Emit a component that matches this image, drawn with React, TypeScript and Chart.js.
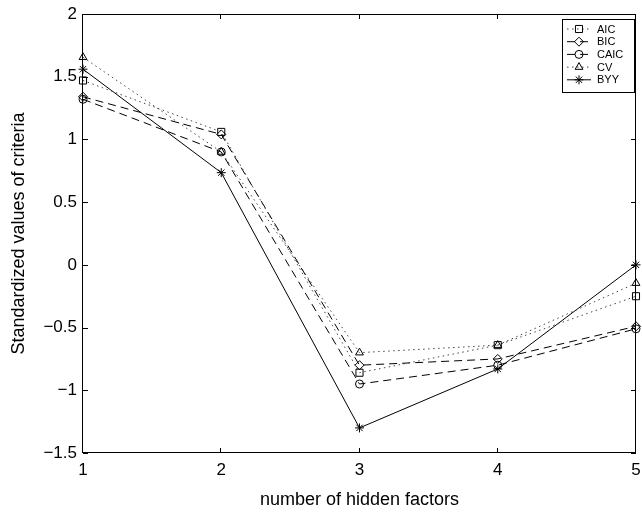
import React, { useEffect, useRef } from 'react';
import { Chart, registerables } from 'chart.js';
import { drawPoint } from 'chart.js/helpers';

Chart.register(...registerables);

const xValues = [1, 2, 3, 4, 5];
const seriesLabels = ['AIC', 'BIC', 'CAIC', 'CV', 'BYY'];
const aicValues = [1.47, 1.06, -0.86, -0.64, -0.25];
const bicValues = [1.34, 1.04, -0.8, -0.75, -0.49];
const caicValues = [1.32, 0.9, -0.95, -0.8, -0.51];
const cvValues = [1.655, 0.9, -0.7, -0.64, -0.146];
const byyValues = [1.56, 0.735, -1.3, -0.83, 0.0];
const yTickValues = [-1.5, -1, -0.5, 0, 0.5, 1, 1.5, 2];
const xTickValues = [1, 2, 3, 4, 5];

const FONT = '"Liberation Sans", Arial, Helvetica, sans-serif';

const fmt = (v: number) => (v < 0 ? '\u2212' + String(Math.abs(v)) : String(v));

const frameLegendPlugin = {
  id: 'frameLegend',
  afterDraw(chart: any) {
    const { ctx, chartArea, scales } = chart;
    const { left, right, top, bottom } = chartArea;
    const xs = scales.x;
    const ys = scales.y;
    ctx.save();
    ctx.strokeStyle = '#000';
    ctx.lineWidth = 1;
    ctx.setLineDash([]);
    ctx.strokeRect(left - 0.5, top + 0.5, right - left, bottom - top - 1);
    const tl = 5;
    ctx.beginPath();
    xTickValues.forEach((v) => {
      const px = Math.round(xs.getPixelForValue(v)) - 0.5;
      ctx.moveTo(px, bottom);
      ctx.lineTo(px, bottom - tl);
      ctx.moveTo(px, top);
      ctx.lineTo(px, top + tl);
    });
    yTickValues.forEach((v) => {
      const py = Math.round(ys.getPixelForValue(v)) + 0.5;
      ctx.moveTo(left, py);
      ctx.lineTo(left + tl, py);
      ctx.moveTo(right, py);
      ctx.lineTo(right - tl, py);
    });
    ctx.stroke();

    // legend
    const bx = 562, by = 19, bw = 72, bh = 73;
    ctx.fillStyle = '#fff';
    ctx.fillRect(bx, by, bw, bh);
    ctx.strokeRect(bx + 0.5, by + 0.5, bw, bh);
    ctx.font = '11px ' + FONT;
    ctx.textAlign = 'left';
    ctx.textBaseline = 'middle';
    chart.data.datasets.forEach((ds: any, i: number) => {
      const y = by + 10 + i * 12.7;
      ctx.save();
      ctx.strokeStyle = ds.borderColor;
      ctx.lineWidth = ds.borderWidth;
      ctx.setLineDash(ds.borderDash || []);
      ctx.beginPath();
      ctx.moveTo(567, y);
      ctx.lineTo(591, y);
      ctx.stroke();
      ctx.setLineDash([]);
      ctx.strokeStyle = '#000';
      ctx.fillStyle = 'rgba(0,0,0,0)';
      ctx.lineWidth = 1;
      drawPoint(ctx, { pointStyle: ds.pointStyle, radius: ds.pointRadius, rotation: 0, borderWidth: 1 }, 579, y);
      ctx.restore();
      ctx.fillStyle = '#000';
      ctx.fillText(ds.label, 597, y + 0.5);
    });
    ctx.restore();
  },
};

export default function App() {
  const ref = useRef<HTMLCanvasElement | null>(null);
  useEffect(() => {
    document.body.style.margin = '0';
    const canvas = ref.current;
    if (!canvas) return;
    const mk = (label: string, values: number[], style: string, dash: number[], radius: number, color: string) => ({
      label,
      data: values.map((v, i) => ({ x: xValues[i], y: v })),
      borderColor: color,
      borderWidth: 1,
      borderDash: dash,
      pointStyle: style,
      pointRadius: radius,
      pointBorderColor: '#000',
      pointBackgroundColor: 'rgba(0,0,0,0)',
      pointBorderWidth: 1,
      backgroundColor: 'rgba(0,0,0,0)',
      fill: false,
      tension: 0,
      clip: false,
    });
    const chart = new Chart(canvas, {
      type: 'line',
      data: {
        datasets: [
          mk(seriesLabels[0], aicValues, 'rect', [1.5, 3.5], 5, '#444'),
          mk(seriesLabels[1], bicValues, 'rectRot', [8, 5], 4.5, '#000'),
          mk(seriesLabels[2], caicValues, 'circle', [8, 5], 4, '#000'),
          mk(seriesLabels[3], cvValues, 'triangle', [1.5, 3.5], 4.5, '#444'),
          mk(seriesLabels[4], byyValues, 'star', [], 4.5, '#000'),
        ] as any,
      },
      options: {
        responsive: false,
        animation: false,
        events: [],
        layout: { padding: { left: 0, top: 14, right: 3, bottom: 0 } },
        plugins: { legend: { display: false }, tooltip: { enabled: false } },
        scales: {
          x: {
            type: 'linear',
            min: 1,
            max: 5,
            afterBuildTicks: (s: any) => {
              s.ticks = xTickValues.map((v) => ({ value: v }));
            },
            afterFit: (s: any) => {
              s.height = 60;
              s.paddingLeft = 0;
              s.paddingRight = 0;
            },
            grid: { display: false, drawTicks: false },
            border: { display: false },
            ticks: {
              color: '#000',
              padding: 7,
              maxRotation: 0,
              font: { family: FONT, size: 17 },
              callback: (v: any) => fmt(Number(v)),
            },
            title: {
              display: true,
              text: 'number of hidden factors',
              color: '#000',
              font: { family: FONT, size: 18 },
              padding: { top: 0, bottom: 2 },
            },
          },
          y: {
            type: 'linear',
            min: -1.5,
            max: 2,
            afterBuildTicks: (s: any) => {
              s.ticks = yTickValues.map((v) => ({ value: v }));
            },
            afterFit: (s: any) => {
              s.width = 83;
              s.paddingTop = 0;
              s.paddingBottom = 0;
            },
            grid: { display: false, drawTicks: false },
            border: { display: false },
            ticks: {
              color: '#000',
              padding: 6,
              font: { family: FONT, size: 17 },
              callback: (v: any) => fmt(Number(v)),
            },
            title: {
              display: true,
              text: 'Standardized values of criteria',
              color: '#000',
              font: { family: FONT, size: 18 },
              padding: { top: 8, bottom: 0 },
            },
          },
        },
      },
      plugins: [frameLegendPlugin],
    } as any);
    return () => chart.destroy();
  }, []);
  return (
    <div>
      <canvas ref={ref} width={642} height={513} style={{ display: 'block' }} />
    </div>
  );
}
